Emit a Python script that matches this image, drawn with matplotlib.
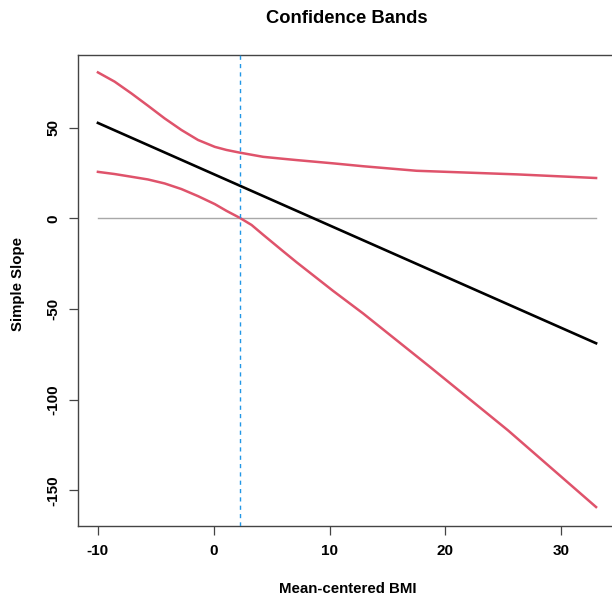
import matplotlib
matplotlib.use("Agg")
import matplotlib.pyplot as plt

# values
bmi_line = [-10, 33]
slope_line = [52.7, -68.9]

bmi_upper = [-10.0, -8.56, -7.11, -5.68, -4.24, -2.79, -1.36, 0.09, 1.09,
             2.25, 4.26, 6.0, 7.15, 10.3, 12.9, 17.5, 26.2, 33.0]
upper_ci = [80.6, 75.5, 69.0, 62.2, 55.2, 48.8, 43.3, 39.5, 37.8,
            36.3, 34.0, 32.9, 32.2, 30.4, 28.8, 26.3, 24.3, 22.3]

bmi_lower = [-10.0, -8.56, -7.11, -5.68, -4.24, -2.79, -1.36, 0.09, 1.09,
             2.25, 3.26, 4.26, 6.0, 7.15, 10.3, 12.9, 18.67, 25.4, 33.0]
lower_ci = [25.7, 24.5, 23.0, 21.5, 19.3, 16.2, 12.3, 7.9, 4.2,
            0.3, -3.6, -9.0, -18.2, -24.2, -40.0, -52.5, -82.0, -117.0,
            -159.3]

jn_point = 2.25
xticks = [-10, 0, 10, 20, 30]
yticks = [-150, -100, -50, 0, 50]

W, H = 612, 598
plt.rcParams["font.family"] = ["Liberation Sans", "DejaVu Sans"]
plt.rcParams["font.weight"] = "bold"

fig = plt.figure(figsize=(W / 100, H / 100), dpi=100)
ax = fig.add_axes([78 / W, 1 - 525.7 / H, (616 - 78) / W, (525.7 - 55) / H])

red = "#DF536B"
ax.plot([bmi_line[0], bmi_line[1]], [0, 0], color="#a8a8a8", lw=1.0, zorder=1)
ax.plot(bmi_upper, upper_ci, color=red, lw=1.8, zorder=2,
        solid_joinstyle="round")
ax.plot(bmi_lower, lower_ci, color=red, lw=1.8, zorder=2,
        solid_joinstyle="round")
ax.plot(bmi_line, slope_line, color="black", lw=1.9, zorder=3)
ax.axvline(jn_point, color="#2297E6", lw=1.0, ls=(0, (3, 3)), zorder=4)

ax.set_xlim(-11.72, 34.72)
ax.set_ylim(-169.6, 90.2)
ax.set_xticks(xticks)
ax.set_yticks(yticks)
ax.set_xticklabels([str(v) for v in xticks], fontsize=11, fontweight="bold")
ax.set_yticklabels([str(v) for v in yticks], fontsize=11, fontweight="bold",
                   rotation=90, va="center")
ax.tick_params(length=6.5, width=0.9, color="#444444")
ax.tick_params(axis="y", pad=6)
ax.tick_params(axis="x", pad=7)
for sp in ax.spines.values():
    sp.set_linewidth(1.0)
    sp.set_color("#444444")

fig.text(347 / W, 1 - 18.5 / H, "Confidence Bands", ha="center", va="center",
         fontsize=13.2, fontweight="bold")
fig.text(348 / W, 1 - 589 / H, "Mean-centered BMI", ha="center", va="center",
         fontsize=10.8, fontweight="bold")
fig.text(18.5 / W, 1 - 284 / H, "Simple Slope", ha="center", va="center",
         rotation=90, fontsize=10.8, fontweight="bold")

fig.savefig("out.png", dpi=100, facecolor="white")
